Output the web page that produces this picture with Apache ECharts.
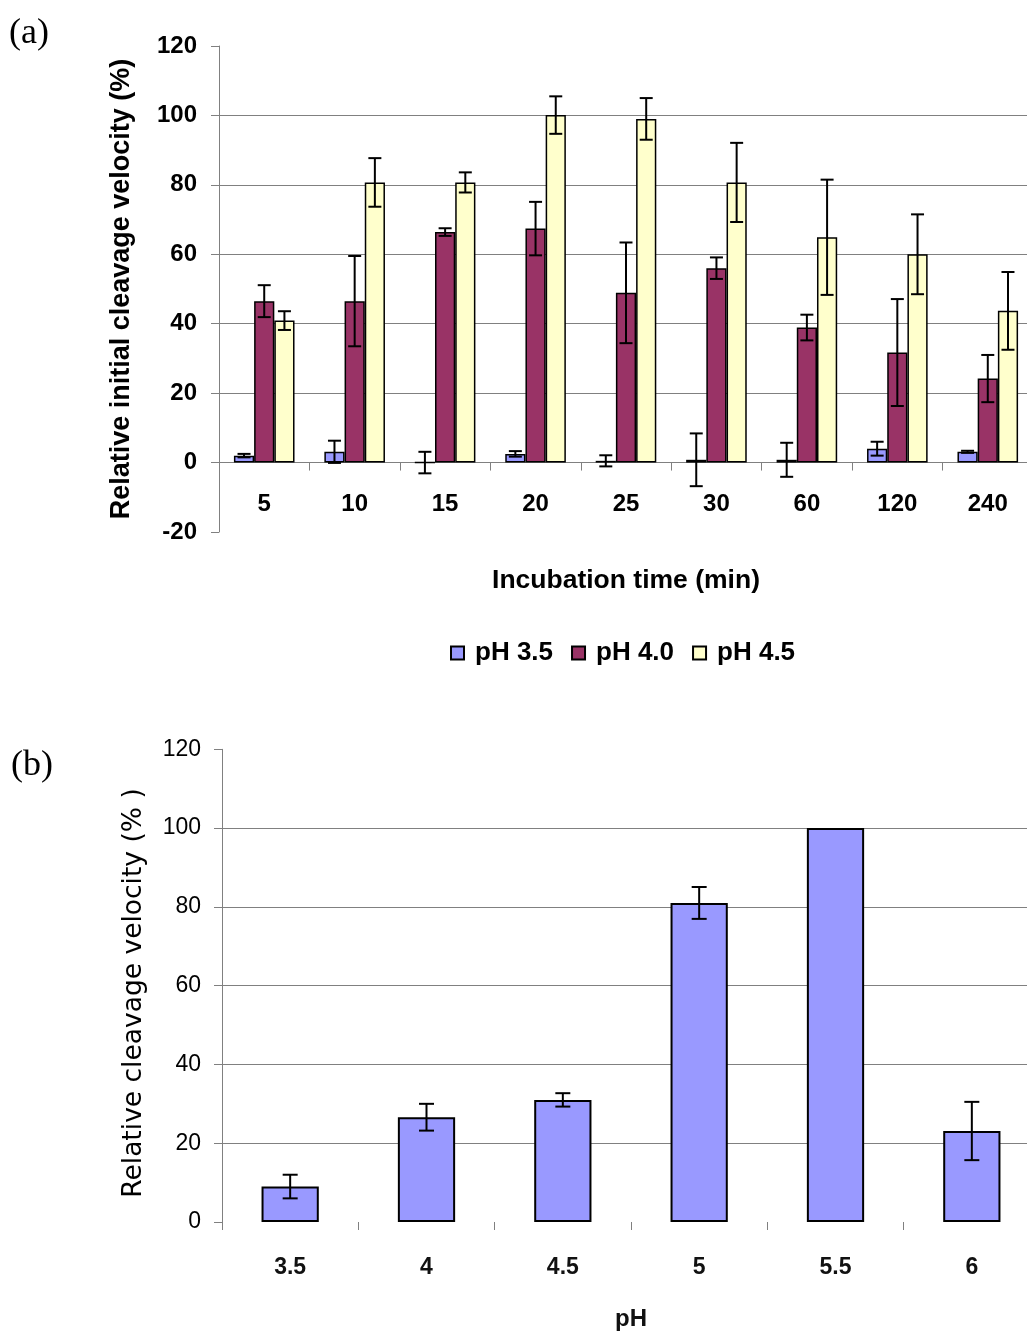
<!DOCTYPE html>
<html>
<head>
<meta charset="utf-8">
<script src="https://cdn.jsdelivr.net/npm/echarts@6/dist/echarts.min.js"></script>
<style>
html,body{margin:0;padding:0;background:#fff;overflow:hidden;}
#chart{width:1045px;height:1332px;}
</style>
</head>
<body>
<div id="chart"></div>
<script>
// ---------- Data: panel (a) ----------
const timeCats = ['5', '10', '15', '20', '25', '30', '60', '120', '240'];
const seriesNamesA = ['pH 3.5', 'pH 4.0', 'pH 4.5'];
const ph35 = [2.0, 3.1, 0, 2.5, 0.5, 0.8, 0.8, 4.0, 3.1];
const ph35Err = [0.5, 3.2, 3.1, 0.8, 1.6, 7.6, 4.9, 2.0, 0.3];
const ph40 = [46.5, 46.5, 66.4, 67.4, 48.9, 56.0, 38.9, 31.7, 24.2];
const ph40Err = [4.6, 13.0, 1.1, 7.7, 14.5, 3.1, 3.7, 15.4, 6.8];
const ph45 = [40.9, 80.7, 80.7, 100.1, 99.0, 80.7, 64.9, 60.0, 43.7];
const ph45Err = [2.7, 7.0, 2.9, 5.4, 6.0, 11.4, 16.6, 11.5, 11.2];
const yTicksA = { min: -20, max: 120, interval: 20 };

// ---------- Data: panel (b) ----------
const phCats = ['3.5', '4', '4.5', '5', '5.5', '6'];
const relVel = [9.0, 26.6, 31.0, 81.0, 100, 23.1];
const relVelErr = [3.0, 3.4, 1.7, 4.05, 0, 7.4];
const yTicksB = { min: 0, max: 120, interval: 20 };

const COLORS = ['#9999FF', '#993366', '#FFFFCC'];
const FONT = 'Liberation Sans';
const GRID_GRAY = '#808080';
const CAT_GAP_A = 0.33;
const CAT_GAP_B = 0.58;

// grid (a) geometry: value axis from -20 to 120 -> zero line sits above the grid bottom
const GRID_A = { left: 219, top: 46, width: 814, height: 486 };
const ZERO_OFFSET_A = GRID_A.height * (0 - yTicksA.min) / (yTicksA.max - yTicksA.min);

function errData(vals, errs) {
  return vals.map((v, i) => [i, v, errs[i]]);
}

function makeErrRender(slot, nSlots, catGap, capHalf) {
  return function (params, api) {
    const i = api.value(0), v = api.value(1), e = api.value(2);
    if (!e) return null;
    const band = api.size([1, 0])[0];
    const bw = band * (1 - catGap) / nSlots;
    const cx = api.coord([i, v])[0] + (slot - (nSlots - 1) / 2) * bw;
    const yt = api.coord([i, v + e])[1];
    const yb = api.coord([i, v - e])[1];
    const st = { stroke: '#000', lineWidth: 2 };
    return {
      type: 'group',
      children: [
        { type: 'line', shape: { x1: cx, y1: yt, x2: cx, y2: yb }, style: st },
        { type: 'line', shape: { x1: cx - capHalf, y1: yt, x2: cx + capHalf, y2: yt }, style: st },
        { type: 'line', shape: { x1: cx - capHalf, y1: yb, x2: cx + capHalf, y2: yb }, style: st }
      ]
    };
  };
}

const chart = echarts.init(document.getElementById('chart'), null, { renderer: 'canvas' });

const valsA = [ph35, ph40, ph45];
const errsA = [ph35Err, ph40Err, ph45Err];

const barSeriesA = seriesNamesA.map((name, k) => ({
  name: name,
  type: 'bar',
  xAxisIndex: 0, yAxisIndex: 0,
  data: valsA[k],
  barGap: '0%',
  barCategoryGap: (CAT_GAP_A * 100) + '%',
  itemStyle: { color: COLORS[k], borderColor: '#000', borderWidth: 1.5 },
  z: 2
}));

const errSeriesA = seriesNamesA.map((name, k) => ({
  type: 'custom',
  name: name + ' err',
  xAxisIndex: 0, yAxisIndex: 0,
  data: errData(valsA[k], errsA[k]),
  encode: { x: 0, y: 1 },
  renderItem: makeErrRender(k, 3, CAT_GAP_A, 6.5),
  z: 5,
  silent: true
}));

const option = {
  backgroundColor: '#fff',
  animation: false,
  textStyle: { fontFamily: FONT, color: '#000' },
  grid: [
    Object.assign({ containLabel: false }, GRID_A),
    { left: 222, top: 749.3, width: 818, height: 473.4, containLabel: false }
  ],
  legend: {
    data: seriesNamesA,
    left: 445, top: 635,
    itemWidth: 13, itemHeight: 13, itemGap: 18,
    icon: 'rect',
    textStyle: { fontFamily: FONT, fontSize: 26, fontWeight: 'bold', color: '#000', padding: [0, 0, 0, 6] }
  },
  xAxis: [
    {
      type: 'category', gridIndex: 0, data: timeCats,
      position: 'bottom', offset: -ZERO_OFFSET_A,
      axisLine: { show: true, onZero: false, lineStyle: { color: GRID_GRAY, width: 1 } },
      axisTick: { show: true, length: 8, lineStyle: { color: GRID_GRAY } },
      axisLabel: { fontFamily: FONT, fontSize: 24, fontWeight: 'bold', color: '#000', margin: 30 },
      name: 'Incubation time (min)', nameLocation: 'middle', nameGap: 105,
      nameTextStyle: { fontFamily: FONT, fontSize: 26.5, fontWeight: 'bold', color: '#000' }
    },
    {
      type: 'category', gridIndex: 1, data: phCats,
      axisLine: { show: false },
      axisTick: { show: true, length: 8, lineStyle: { color: GRID_GRAY } },
      axisLabel: { fontFamily: FONT, fontSize: 23, fontWeight: 'bold', color: '#111', margin: 34 },
      name: 'pH', nameLocation: 'middle', nameGap: 85,
      nameTextStyle: { fontFamily: FONT, fontSize: 24, fontWeight: 'bold', color: '#111' }
    }
  ],
  yAxis: [
    {
      type: 'value', gridIndex: 0,
      min: yTicksA.min, max: yTicksA.max, interval: yTicksA.interval,
      axisLine: { show: true, lineStyle: { color: GRID_GRAY, width: 1 } },
      axisTick: { show: true, length: 8, lineStyle: { color: GRID_GRAY } },
      axisLabel: { fontFamily: FONT, fontSize: 24, fontWeight: 'bold', color: '#000', margin: 22 },
      splitLine: { show: true, showMinLine: false, showMaxLine: false, lineStyle: { color: GRID_GRAY, width: 1 } },
      name: 'Relative initial cleavage velocity (%)', nameLocation: 'middle', nameGap: 84, nameRotate: 90,
      nameTextStyle: { fontFamily: FONT, fontSize: 27, fontWeight: 'bold', color: '#000' }
    },
    {
      type: 'value', gridIndex: 1,
      min: yTicksB.min, max: yTicksB.max, interval: yTicksB.interval,
      axisLine: { show: true, lineStyle: { color: GRID_GRAY, width: 1 } },
      axisTick: { show: true, length: 8, lineStyle: { color: GRID_GRAY } },
      axisLabel: { fontFamily: FONT, fontSize: 23, color: '#000', margin: 21 },
      splitLine: { show: true, showMinLine: false, showMaxLine: false, lineStyle: { color: GRID_GRAY, width: 1 } }
    }
  ],
  graphic: [
    { type: 'text', left: 9, top: 16, style: { text: '(a)', font: '36px "Liberation Serif"', fill: '#000' } },
    { type: 'text', left: 11, top: 748, style: { text: '(b)', font: '36px "Liberation Serif"', fill: '#000' } },
    {
      type: 'text', x: 134, y: 993, rotation: Math.PI / 2,
      style: {
        text: 'Relative cleavage velocity (% )',
        font: '26.5px "DejaVu Sans"', fill: '#000',
        align: 'center', verticalAlign: 'middle'
      }
    }
  ],
  series: [
    ...barSeriesA,
    ...errSeriesA,
    {
      name: 'Relative cleavage velocity',
      type: 'bar', xAxisIndex: 1, yAxisIndex: 1,
      data: relVel,
      barCategoryGap: (CAT_GAP_B * 100) + '%',
      itemStyle: { color: COLORS[0], borderColor: '#000', borderWidth: 2 },
      z: 2
    },
    {
      type: 'custom', name: 'Relative cleavage velocity err',
      xAxisIndex: 1, yAxisIndex: 1,
      data: errData(relVel, relVelErr),
      encode: { x: 0, y: 1 },
      renderItem: makeErrRender(0, 1, CAT_GAP_B, 7.5),
      z: 5, silent: true
    }
  ]
};

chart.setOption(option);
</script>
</body>
</html>
